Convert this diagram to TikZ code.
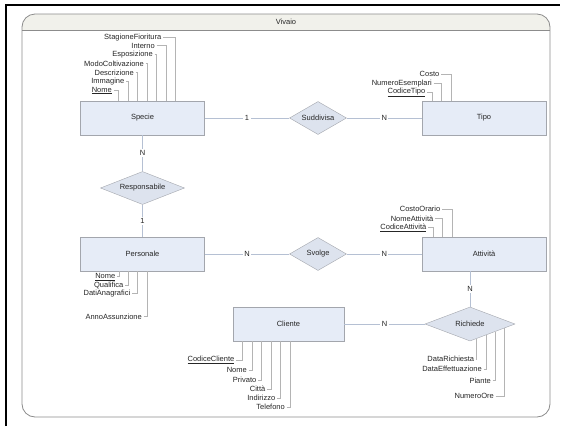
\documentclass[tikz,border=0pt]{standalone}
\usepackage{fontspec}
\setmainfont{Liberation Sans}
\usetikzlibrary{shapes.geometric,calc}
\definecolor{FrameGray}{HTML}{8C8C8C}
\definecolor{TitleFill}{HTML}{F1F1EB}
\definecolor{BoxFill}{HTML}{E6ECF7}
\definecolor{BoxLine}{HTML}{A3A6AD}
\definecolor{RelFill}{HTML}{DDE3EE}
\definecolor{LinkBlue}{HTML}{B5C0D3}
\definecolor{AttrGray}{HTML}{B4B4B4}

\tikzset{
        every node/.style={font=\fontsize{7.5}{9}\selectfont, text=black!85},
        entity/.style={draw=BoxLine, fill=BoxFill, minimum width=124pt, minimum height=34pt, inner sep=0pt},
        relation/.style={diamond, aspect=2.5, draw=BoxLine, fill=RelFill, inner sep=0pt},
        link/.style={draw=LinkBlue, line width=0.6pt},
        card/.style={fill=white, inner sep=1.5pt},
        attr/.style={draw=AttrGray, line width=0.6pt},
        attrlabel/.style={anchor=east, inner sep=1.5pt}
}

\begin{document}
\begin{tikzpicture}[x=1pt,y=-1pt]
        \useasboundingbox (0,0) rectangle (565,426);
        \fill[white] (0,0) rectangle (565,426);
        \draw[line width=2pt] (6,426) -- (6,5) -- (560,5);

        \begin{scope}
                \clip[rounded corners=13pt] (22,14) rectangle (550,417);
                \fill[TitleFill] (22,14) rectangle (550,30);
        \end{scope}
        \draw[FrameGray] (22,30) -- (550,30);
        \draw[FrameGray, line width=0.8pt, rounded corners=13pt] (22,14) rectangle (550,417);
        \node (title) at (286,22) {Vivaio};

        \node[entity] (specie) at (142.5,118) {Specie};
        \node[entity] (tipo) at (484,118) {Tipo};
        \node[entity] (personale) at (142.5,254) {Personale};
        \node[entity] (attivita) at (484,254) {Attività};
        \node[entity, minimum width=111pt] (cliente) at (288.5,324) {Cliente};

        \node[relation, minimum width=57pt, minimum height=33pt] (suddivisa) at (318,118) {Suddivisa};
        \node[relation, minimum width=84pt, minimum height=33pt] (responsabile) at (142.5,188) {Responsabile};
        \node[relation, minimum width=57pt, minimum height=33pt] (svolge) at (318,254) {Svolge};
        \node[relation, minimum width=90pt, minimum height=34pt] (richiede) at (470,324) {Richiede};

        \coordinate (attivitaS) at (richiede.north |- attivita.south);

        \draw[link] (specie) -- node[card] {1} (suddivisa);
        \draw[link] (suddivisa) -- node[card] {N} (tipo);
        \draw[link] (specie) -- node[card] {N} (responsabile);
        \draw[link] (responsabile) -- node[card] {1} (personale);
        \draw[link] (personale) -- node[card] {N} (svolge);
        \draw[link] (svolge) -- node[card] {N} (attivita);
        \draw[link] (attivitaS) -- node[card] {N} (richiede);
        \draw[link] (cliente) -- node[card] {N} (richiede);

        \node[attrlabel] (sNome) at (113.5,90.5) {\underline{Nome}};
        \node[attrlabel] (sImmagine) at (126,81.7) {Immagine};
        \node[attrlabel] (sDescrizione) at (135.5,72.7) {Descrizione};
        \node[attrlabel] (sModo) at (145.5,63.5) {ModoColtivazione};
        \node[attrlabel] (sEsposizione) at (154.5,54.5) {Esposizione};
        \node[attrlabel] (sInterno) at (156.5,45.7) {Interno};
        \node[attrlabel] (sStagione) at (163,37.5) {StagioneFioritura};
        \draw[attr] (sNome.east) -| ([xshift=-24.5pt]specie.north);
        \draw[attr] (sImmagine.east) -| ([xshift=-14.5pt]specie.north);
        \draw[attr] (sDescrizione.east) -| ([xshift=-5.2pt]specie.north);
        \draw[attr] (sModo.east) -| ([xshift=4.8pt]specie.north);
        \draw[attr] (sEsposizione.east) -| ([xshift=14.2pt]specie.north);
        \draw[attr] (sInterno.east) -| ([xshift=23.5pt]specie.north);
        \draw[attr] (sStagione.east) -| ([xshift=32.5pt]specie.north);

        \node[attrlabel] (tCodice) at (427,92.7) {\underline{CodiceTipo}};
        \node[attrlabel] (tNumero) at (433.5,83.3) {NumeroEsemplari};
        \node[attrlabel] (tCosto) at (441,74) {Costo};
        \draw[attr] (tCodice.east) -| ([xshift=-51.7pt]tipo.north);
        \draw[attr] (tNumero.east) -| ([xshift=-42.3pt]tipo.north);
        \draw[attr] (tCosto.east) -| ([xshift=-33pt]tipo.north);

        \node[attrlabel] (aCodice) at (428,227.7) {\underline{CodiceAttività}};
        \node[attrlabel] (aNome) at (435,218.7) {NomeAttività};
        \node[attrlabel] (aCosto) at (442,209.3) {CostoOrario};
        \draw[attr] (aCodice.east) -| ([xshift=-50.7pt]attivita.north);
        \draw[attr] (aNome.east) -| ([xshift=-41.3pt]attivita.north);
        \draw[attr] (aCosto.east) -| ([xshift=-31.7pt]attivita.north);

        \node[attrlabel] (pNome) at (117,276.7) {\underline{Nome}};
        \node[attrlabel] (pQualifica) at (125,285) {Qualifica};
        \node[attrlabel] (pDati) at (132,293.3) {DatiAnagrafici};
        \node[attrlabel] (pAnno) at (143.5,316.5) {AnnoAssunzione};
        \draw[attr] (pNome.east) -| ([xshift=-23.5pt]personale.south);
        \draw[attr] (pQualifica.east) -| ([xshift=-14.2pt]personale.south);
        \draw[attr] (pDati.east) -| ([xshift=-4.8pt]personale.south);
        \draw[attr] (pAnno.east) -| ([xshift=4.8pt]personale.south);

        \node[attrlabel] (cCodice) at (236,360) {\underline{CodiceCliente}};
        \node[attrlabel] (cNome) at (248.5,370) {Nome};
        \node[attrlabel] (cPrivato) at (258,380) {Privato};
        \node[attrlabel] (cCitta) at (267,389) {Città};
        \node[attrlabel] (cIndirizzo) at (277,398.3) {Indirizzo};
        \node[attrlabel] (cTelefono) at (286.5,407.3) {Telefono};
        \draw[attr] (cCodice.east) -| ([xshift=-45.8pt]cliente.south);
        \draw[attr] (cNome.east) -| ([xshift=-36.2pt]cliente.south);
        \draw[attr] (cPrivato.east) -| ([xshift=-26.8pt]cliente.south);
        \draw[attr] (cCitta.east) -| ([xshift=-17.5pt]cliente.south);
        \draw[attr] (cIndirizzo.east) -| ([xshift=-7.8pt]cliente.south);
        \draw[attr] (cTelefono.east) -| ([xshift=1.5pt]cliente.south);

        \node[attrlabel] (rDataR) at (475.8,359.3) {DataRichiesta};
        \node[attrlabel] (rDataE) at (483.5,369) {DataEffettuazione};
        \node[attrlabel] (rPiante) at (492.5,380.7) {Piante};
        \node[attrlabel] (rNumero) at (495.5,396) {NumeroOre};
        \draw[attr] (rDataR.east) -| ($(richiede.south)!0.15!(richiede.east)$);
        \draw[attr] (rDataE.east) -| ($(richiede.south)!0.35!(richiede.east)$);
        \draw[attr] (rPiante.east) -| ($(richiede.south)!0.55!(richiede.east)$);
        \draw[attr] (rNumero.east) -| ($(richiede.south)!0.75!(richiede.east)$);
\end{tikzpicture}
\end{document}
